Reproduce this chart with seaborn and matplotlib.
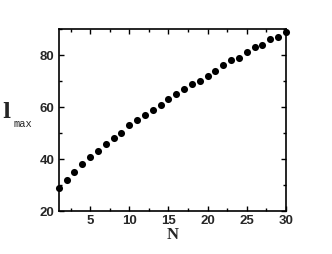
import numpy as np
import pandas as pd
import matplotlib
matplotlib.use("Agg")
import matplotlib.pyplot as plt
from matplotlib.ticker import MultipleLocator
import seaborn as sns

# values
n_values = list(range(1, 31))
l_max = [29, 32, 35, 38, 41, 43, 46, 48, 50, 53,
         55, 57, 59, 61, 63, 65, 67, 69, 70, 72,
         74, 76, 78, 79, 81, 83, 84, 86, 87, 89]
x_ticks = [5, 10, 15, 20, 25, 30]
y_ticks = [20, 40, 60, 80]

df = pd.DataFrame({"N": n_values, "lmax": l_max})

sns.set_style("ticks")
plt.rcParams["font.family"] = ["Liberation Sans", "DejaVu Sans"]
plt.rcParams["font.weight"] = "bold"

fig = plt.figure(figsize=(3.32, 2.54), dpi=100)
ax = fig.add_axes([0.177, 0.168, 0.684, 0.718])

sns.scatterplot(data=df, x="N", y="lmax", ax=ax, color="black",
                s=26, edgecolor="black", linewidth=0, clip_on=False, zorder=3)

ax.set_xlim(1, 30)
ax.set_ylim(20, 90)
ax.set_xticks(x_ticks)
ax.set_yticks(y_ticks)
ax.xaxis.set_minor_locator(MultipleLocator(2.5))
ax.yaxis.set_minor_locator(MultipleLocator(10))
ax.tick_params(which="both", direction="in", top=True, right=True,
               width=1, color="black")
ax.tick_params(which="major", length=3.5, pad=3, labelsize=9.5)
ax.tick_params(which="minor", length=2.5)
for sp in ax.spines.values():
    sp.set_linewidth(1.2)
    sp.set_color("black")

ax.set_xlabel("N", family=["Liberation Serif", "DejaVu Serif"],
              fontweight="bold", fontsize=12, labelpad=0)
ax.set_ylabel("")
fig.text(0.008, 0.535, "l", family=["DejaVu Serif"],
         fontweight="bold", fontsize=15, va="baseline", ha="left")
fig.text(0.042, 0.50, "max", family=["Liberation Mono", "DejaVu Sans Mono"],
         fontweight="normal", fontsize=7.5, va="baseline", ha="left")

fig.savefig("out.png", dpi=100)
